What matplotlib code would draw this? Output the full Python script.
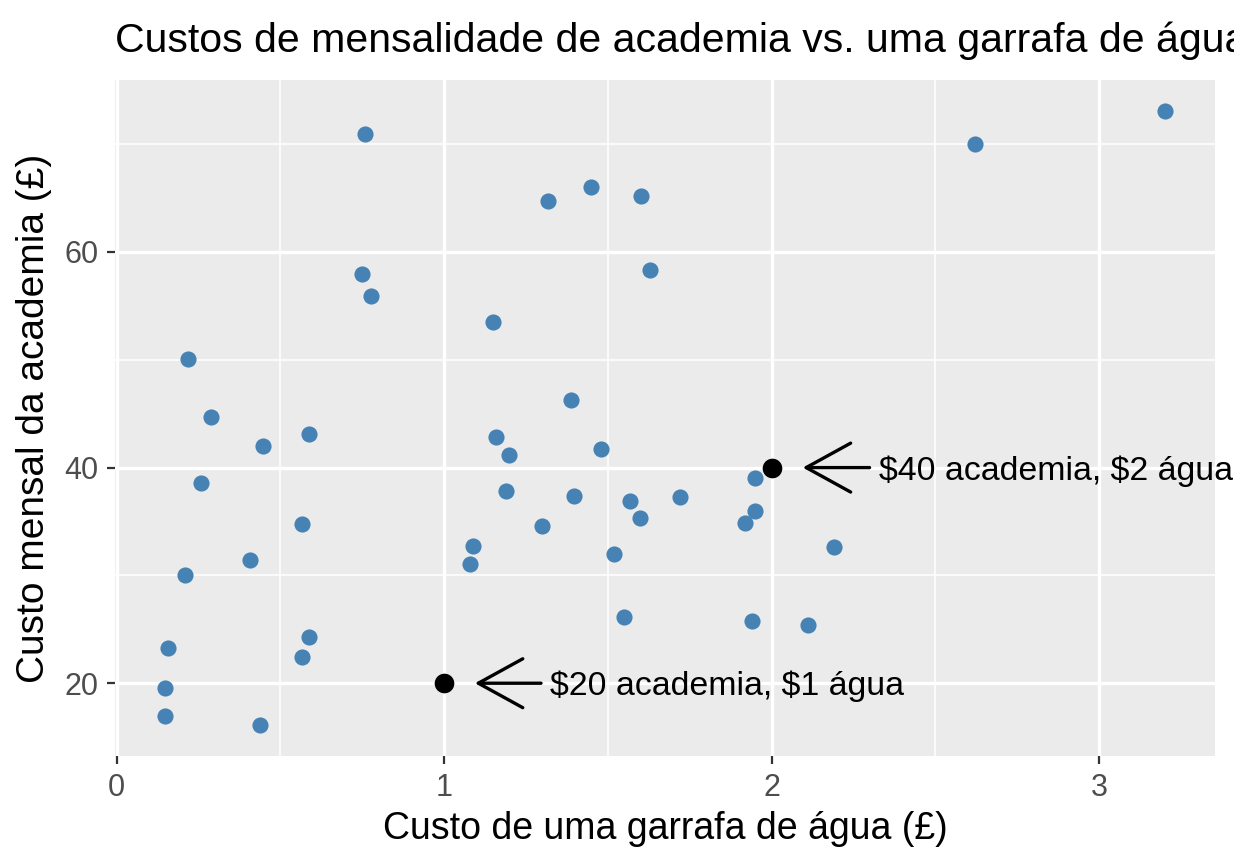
import numpy as np
import matplotlib
matplotlib.use('Agg')
import matplotlib.pyplot as plt
from matplotlib.ticker import MultipleLocator

#data
agua = [0.758, 0.749, 0.778, 0.217, 0.288, 0.447, 0.587, 0.258, 0.567, 0.409,
        0.208, 0.158, 0.587, 0.567, 0.148, 0.148, 0.438,
        1.318, 1.449, 1.600, 1.629, 1.148, 1.389, 1.160, 1.199, 1.480,
        1.190, 1.398, 1.299, 1.569, 1.598, 1.719, 1.518, 1.088, 1.079,
        1.549, 1.948, 1.949, 1.919, 1.940, 2.110, 2.190, 2.620, 3.201]
academia = [70.9, 58.0, 55.9, 50.1, 44.7, 42.0, 43.1, 38.6, 34.8, 31.4,
            30.0, 23.3, 24.3, 22.4, 19.6, 17.0, 16.1,
            64.7, 66.0, 65.2, 58.3, 53.5, 46.3, 42.8, 41.2, 41.7,
            37.8, 37.4, 34.6, 36.9, 35.3, 37.3, 32.0, 32.7, 31.1,
            26.1, 39.0, 36.0, 34.9, 25.8, 25.4, 32.6, 70.0, 73.1]

#highlighted points and their labels
destaque_x = [1, 2]
destaque_y = [20, 40]
destaque_txt = ['$20 academia, $1 água', '$40 academia, $2 água']
#arrow tip / tail and text start (x offsets from the point)
seta_ponta = [0.094, 0.095]
seta_cauda = [0.296, 0.299]
texto_x = [0.323, 0.329]

plt.rcParams['font.family'] = ['Liberation Sans', 'DejaVu Sans']

fig = plt.figure(figsize=(12.34, 8.64), dpi=100)
ax = fig.add_axes([115/1234, 1 - 756/864, 1100/1234, 676/864])
ax.set_facecolor('#EBEBEB')

ax.scatter(agua, academia, s=135, color='#4682B4', zorder=3, linewidths=0)
ax.scatter(destaque_x, destaque_y, s=200, color='black', zorder=4, linewidths=0)

for i in range(len(destaque_x)):
    x0 = destaque_x[i]
    y0 = destaque_y[i]
    ax.annotate('', xy=(x0 + seta_ponta[i], y0), xytext=(x0 + seta_cauda[i], y0),
                arrowprops=dict(arrowstyle='->,head_length=1.6,head_width=0.88',
                                lw=2.4, color='black', shrinkA=0, shrinkB=0,
                                mutation_scale=20),
                zorder=5)
    ax.text(x0 + texto_x[i], y0 - 0.3, destaque_txt[i].replace('$', r'\$'),
            fontsize=24.4, va='center', ha='left', color='black',
            clip_on=False, zorder=5)

#limits like ggplot's 5% expansion
xmin, xmax = min(agua), max(agua)
ymin, ymax = min(academia), max(academia)
ax.set_xlim(xmin - 0.05 * (xmax - xmin), xmax + 0.05 * (xmax - xmin))
ax.set_ylim(ymin - 0.05 * (ymax - ymin), ymax + 0.05 * (ymax - ymin))

ax.xaxis.set_major_locator(MultipleLocator(1))
ax.xaxis.set_minor_locator(MultipleLocator(0.5))
ax.yaxis.set_major_locator(MultipleLocator(20))
ax.yaxis.set_minor_locator(MultipleLocator(10))

ax.grid(which='major', color='white', lw=2.4, zorder=0)
ax.grid(which='minor', color='white', lw=1.1, zorder=0)
ax.set_axisbelow(True)
for s in ax.spines.values():
    s.set_visible(False)

ax.tick_params(which='major', length=6, width=1.6, color='#333333',
               labelsize=22, labelcolor='#4D4D4D', pad=6)
ax.tick_params(which='minor', length=0)

ax.set_xlabel('Custo de uma garrafa de água (£)', fontsize=27, labelpad=6)
ax.set_ylabel('Custo mensal da academia (£)', fontsize=28, labelpad=9)
ax.set_title('Custos de mensalidade de academia vs. uma garrafa de água',
             fontsize=29.5, loc='left', pad=20)

fig.savefig('out.png', dpi=100)
